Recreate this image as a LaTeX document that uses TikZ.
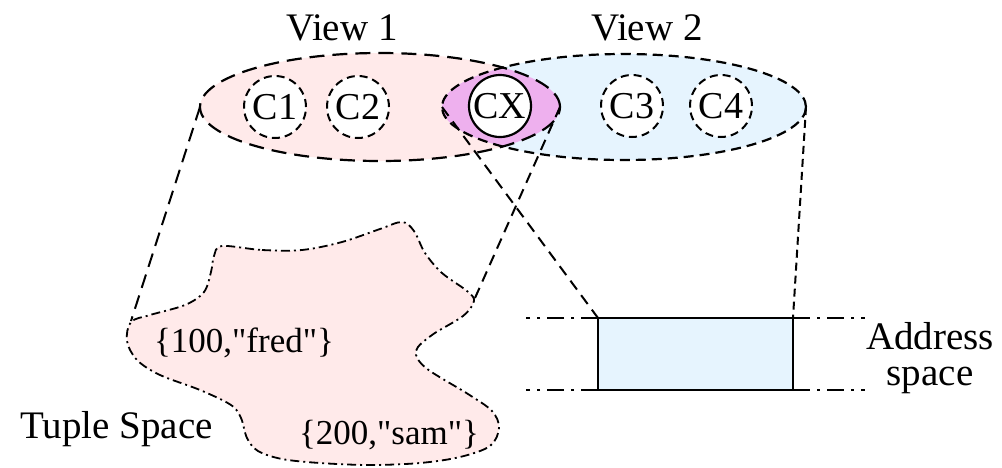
\documentclass[tikz,border=0pt]{standalone}
\usepackage{fontspec}
\setmainfont{Liberation Serif}[Ligatures=TeXOff]
\usetikzlibrary{shapes.geometric}

\definecolor{pinkfill}{RGB}{255,234,234}
\definecolor{bluefill}{RGB}{230,244,254}
\definecolor{lensfill}{RGB}{238,176,238}

\tikzset{
  lbl/.style={font=\fontsize{39}{45}\selectfont, inner sep=0pt},
  tuplelbl/.style={font=\fontsize{35}{40}\selectfont, inner sep=0pt},
  viewell/.style={ellipse, draw, line width=2.2pt, inner sep=0pt, outer sep=0pt},
  viewonedash/.style={dash pattern=on 15pt off 8pt},
  viewtwodash/.style={dash pattern=on 10pt off 6pt},
  ctx/.style={circle, draw, fill=white, minimum size=62pt, inner sep=0pt,
              outer sep=0pt, line width=2pt, dash pattern=on 8pt off 5pt,
              font=\fontsize{38}{44}\selectfont},
  ctxsolid/.style={ctx, solid, line width=2.2pt},
  projlong/.style={line width=2pt, dash pattern=on 14pt off 8pt},
  projmid/.style={line width=2pt, dash pattern=on 11pt off 7pt},
  projshort/.style={line width=2pt, dash pattern=on 8pt off 5pt},
  blobline/.style={line width=1.8pt, dash pattern=on 9pt off 4pt on 2pt off 4pt},
  addrline/.style={line width=2pt, dash pattern=on 17pt off 7pt on 3pt off 7pt},
  addrbox/.style={draw, fill=bluefill, line width=2.2pt, minimum width=195pt,
                  minimum height=72pt, inner sep=0pt, outer sep=0pt}
}

\begin{document}
\begin{tikzpicture}[x=1pt, y=-1pt]
\useasboundingbox (0,0) rectangle (1002,467);

% region fills of the two views and their overlap
\fill[pinkfill] (380,107) ellipse [x radius=180, y radius=54];
\fill[bluefill] (624,107) ellipse [x radius=182, y radius=53];
\begin{scope}
  \clip (380,107) ellipse [x radius=180, y radius=54];
  \fill[lensfill] (624,107) ellipse [x radius=182, y radius=53];
\end{scope}

% view outlines
\node[viewell, viewonedash, minimum width=360pt, minimum height=108pt] (view1) at (380,107) {};
\node[viewell, viewtwodash, minimum width=364pt, minimum height=106pt] (view2) at (624,107) {};

% view titles
\node[lbl, anchor=base] (t1) at (342,40) {View 1};
\node[lbl, anchor=base] (t2) at (647,40) {View 2};

% contexts
\node[ctx] (c1) at (275,107) {C1};
\node[ctx] (c2) at (358,107) {C2};
\node[ctxsolid] (cx) at (500,106) {CX};
\node[ctx] (c3) at (632,106) {C3};
\node[ctx] (c4) at (721,106) {C4};

% tuple space blob
\coordinate (bl) at (131,321);
\coordinate (br) at (475,298);
\filldraw[blobline, fill=pinkfill] plot[smooth cycle, tension=0.55] coordinates {
  (222,246) (262,250) (302,250) (342,242) (380,229) (402,222) (414,231)
  (425,253) (442,273) (467,291) (474,301) (463,316) (432,335) (416,351)
  (426,368) (468,394) (492,411) (499,428) (490,446) (460,457) (420,463)
  (370,465) (320,463) (282,459) (258,451) (247,438) (241,418) (231,405)
  (200,390) (160,375) (137,360) (127,341) (131,322) (150,315) (185,305)
  (204,292) (211,272) (214,256)};

\node[tuplelbl, anchor=base] (fred) at (244,352) {\{100,"fred"\}};
\node[tuplelbl, anchor=base] (sam) at (389,444) {\{200,"sam"\}};
\node[lbl, anchor=base west] (ts) at (20,438) {Tuple Space};

% address space
\node[addrbox] (addr) at (695.5,354) {};
\coordinate (atl) at (526,318);
\coordinate (abl) at (526,390);
\coordinate (atr) at (865,318);
\coordinate (abr) at (865,390);
\draw[addrline] (addr.north west) -- (atl);
\draw[addrline] (addr.south west) -- (abl);
\draw[addrline] (addr.north east) -- (atr);
\draw[addrline] (addr.south east) -- (abr);
\node[lbl, anchor=base] (as1) at (930,349) {Address};
\node[lbl, anchor=base] (as2) at (930,385) {space};

% projections from the views onto the two spaces
\draw[projlong] (view1.west) -- (bl);
\draw[projmid] (view2.west) -- (addr.north west);
\draw[projmid] (view1.east) -- (br);
\draw[projshort] (view2.east) -- (addr.north east);
\end{tikzpicture}
\end{document}
